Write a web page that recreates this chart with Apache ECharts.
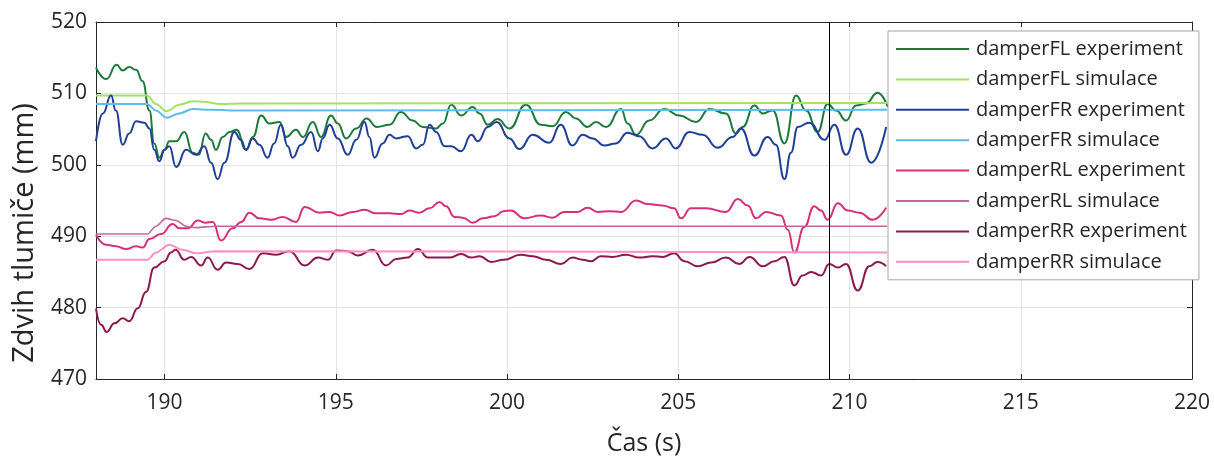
<!DOCTYPE html>
<html><head><meta charset="utf-8">
<script src="https://cdn.jsdelivr.net/npm/echarts@6/dist/echarts.min.js"></script>
<style>html,body{margin:0;padding:0;background:#fff}#c{width:1214px;height:461px}</style>
</head><body><div id="c"></div>
<script>
const seriesNames = ['damperFL experiment','damperFL simulace','damperFR experiment','damperFR simulace','damperRL experiment','damperRL simulace','damperRR experiment','damperRR simulace'];
const seriesColors = ['#1e7a3c','#a6e065','#213f94','#5cbde9','#d6307a','#c3679f','#8b1a4f','#ff8fc8'];

const tFLexp = [188,188.3,188.6,188.78,188.97,189.17,189.36,189.56,189.7,189.85,190.0,190.14,190.34,190.58,190.82,191.0,191.2,191.36,191.5,191.7,191.9,192.1,192.38,192.58,192.82,193.06,193.36,193.55,193.84,194.04,194.33,194.57,194.86,195.06,195.3,195.6,195.9,196.2,196.57,196.9,197.25,197.54,197.93,198.13,198.37,198.66,199.0,199.2,199.44,199.72,200.07,200.55,200.99,201.33,201.72,202.01,202.35,202.6,202.89,203.33,203.52,203.77,204.15,204.59,205.03,205.52,205.91,206.39,206.69,206.88,207.22,207.47,207.76,208.1,208.44,208.73,209.07,209.36,209.61,209.9,210.19,210.48,210.82,211.12];
const vFLexp = [513.6,512.0,514.0,513.2,513.7,513.3,511.7,507.6,503.0,501.0,502.1,503.3,503.3,504.6,501.7,501.4,504.4,503.5,502.1,503.9,504.6,504.9,502.1,503.9,506.9,505.8,506.0,503.9,504.9,503.9,506.0,503.9,506.9,505.8,503.7,505.1,506.5,505.3,505.6,507.4,506.2,505.3,505.1,505.8,508.4,506.9,508.1,507.2,505.6,506.4,505.1,508.4,505.6,505.4,507.4,506.5,505.3,506.0,505.3,507.8,505.8,504.2,506.2,507.8,506.9,506.0,507.8,507.2,504.4,505.3,508.3,507.2,507.6,503.0,509.7,507.6,504.6,508.5,507.6,506.2,508.3,508.6,510.1,508.1];

const tFRexp = [188,188.2,188.44,188.58,188.78,188.97,189.17,189.41,189.56,189.7,189.85,190.0,190.14,190.34,190.63,190.92,191.16,191.36,191.55,191.75,192.04,192.23,192.38,192.58,192.77,193.01,193.2,193.4,193.6,193.74,193.99,194.28,194.48,194.62,194.82,195.06,195.35,195.6,195.84,195.98,196.13,196.37,196.57,196.76,197.1,197.35,197.54,197.74,197.93,198.18,198.37,198.66,198.96,199.15,199.44,199.7,200.07,200.36,200.75,201.23,201.57,201.91,202.21,202.5,202.84,203.18,203.52,203.86,204.25,204.64,204.93,205.32,205.71,206.15,206.59,206.83,207.22,207.61,207.85,208.1,208.29,208.49,208.83,209.27,209.56,209.9,210.24,210.63,211.07];
const vFRexp = [503.3,507.2,509.7,507.6,502.8,504.4,506.1,505.9,505.1,502.1,500.5,502.1,502.6,499.7,502.1,501.4,502.6,500.3,498.0,500.3,504.6,503.5,502.1,503.7,502.8,501.0,503.0,505.6,502.6,501.0,502.8,504.6,501.9,503.7,505.6,503.7,501.4,503.5,506.0,503.9,501.0,503.0,504.2,503.7,504.0,502.3,502.8,505.6,504.6,502.6,502.6,501.9,504.2,503.3,505.3,506.0,503.7,502.2,504.2,503.1,505.6,502.7,504.2,503.7,502.7,503.0,504.5,504.0,502.3,503.7,502.3,504.6,504.2,502.4,503.9,505.1,501.3,503.9,502.8,498.0,501.7,505.3,505.9,503.5,505.6,501.4,505.1,500.3,505.3];

const tRLexp = [188,188.3,188.58,188.88,189.17,189.36,189.56,189.9,190.24,190.43,190.68,190.97,191.2,191.41,191.65,191.99,192.24,192.48,192.77,193.11,193.45,193.84,194.09,194.52,194.82,195.11,195.5,195.84,196.18,196.57,196.91,197.15,197.44,197.74,198.03,198.22,198.47,198.71,199.0,199.3,199.64,199.9,200.11,200.5,200.99,201.33,201.67,202.06,202.35,202.65,202.99,203.33,203.77,204.11,204.54,204.88,205.08,205.37,205.81,206.39,206.74,207.03,207.27,207.56,208.0,208.2,208.39,208.68,208.97,209.17,209.36,209.66,209.95,210.29,210.68,211.07];
const vRLexp = [490.2,488.8,488.6,488.2,488.6,488.4,489.6,490.3,491.7,491.1,491.1,492.2,491.9,492.0,489.4,491.1,492.0,493.3,492.5,492.3,492.7,492.0,494.1,493.3,493.4,492.9,493.4,493.7,493.2,493.2,493.1,493.6,493.3,493.9,494.8,494.2,492.7,492.6,491.9,492.5,492.8,493.5,493.6,492.5,492.9,492.6,493.4,493.4,494.0,493.4,493.5,493.4,495.0,494.5,494.3,493.9,492.5,493.9,493.9,493.4,495.2,494.3,492.5,493.4,492.9,490.9,487.7,491.3,494.2,493.6,492.3,494.6,493.6,493.3,492.3,494.0];

const tRRexp = [188,188.15,188.31,188.54,188.78,188.97,189.22,189.46,189.7,190.0,190.19,190.32,190.58,190.78,191.07,191.26,191.55,191.8,192.14,192.48,192.87,193.26,193.65,194.09,194.48,194.77,195.01,195.35,195.64,196.08,196.47,196.76,197.1,197.4,197.69,198.03,198.32,198.66,198.96,199.2,199.54,199.9,200.4,200.75,201.14,201.57,201.91,202.21,202.45,202.74,203.08,203.47,203.86,204.25,204.54,204.88,205.18,205.57,205.96,206.39,206.78,207.08,207.47,207.81,208.1,208.39,208.63,208.88,209.17,209.41,209.66,209.9,210.24,210.58,210.82,211.07];
const vRRexp = [479.9,477.6,476.6,477.8,478.5,478.1,479.9,482.2,485.6,486.5,487.7,488.1,486.7,487.1,485.9,487.0,485.3,486.3,486.1,485.4,487.6,487.4,487.9,485.9,487.0,486.7,488.0,487.9,487.3,488.1,485.9,486.8,487.0,488.2,487.0,487.0,487.0,487.5,487.0,487.2,486.4,486.7,487.4,487.2,486.7,486.1,487.0,486.7,486.5,487.2,487.1,487.4,487.0,487.2,487.1,487.6,486.5,485.8,486.3,487.0,486.1,487.1,485.8,486.5,487.1,483.1,484.5,485.0,484.5,486.1,485.6,486.1,482.4,485.8,486.4,485.8];

const tFLsim = [188,189.5,189.75,190.06,190.43,190.82,191.2,191.6,192.2,211.1];
const vFLsim = [509.7,509.7,508.5,507.5,508.4,508.9,508.8,508.5,508.6,508.65];
const tFRsim = [188,189.5,189.75,190.06,190.43,190.82,191.4,192.2,211.1];
const vFRsim = [508.5,508.5,507.6,506.6,507.2,507.8,507.7,507.6,507.7];
const tRLsim = [188,189.5,189.75,190.04,190.34,190.63,190.92,191.5,211.1];
const vRLsim = [490.3,490.3,491.4,492.5,492.2,491.4,491.2,491.4,491.4];
const tRRsim = [188,189.5,189.75,190.14,190.53,190.92,191.5,211.1];
const vRRsim = [486.7,486.7,487.7,488.8,488.1,487.6,487.9,487.7];

const cursorTime = 209.4;

const FONT = '"Open Sans", "Noto Sans", sans-serif';
const TXT = '#262626';
const zip = (t, v) => t.map((x, i) => [x, v[i]]);
const dataSets = [
  zip(tFLexp, vFLexp), zip(tFLsim, vFLsim),
  zip(tFRexp, vFRexp), zip(tFRsim, vFRsim),
  zip(tRLexp, vRLexp), zip(tRLsim, vRLsim),
  zip(tRRexp, vRRexp), zip(tRRsim, vRRsim)
];

const series = seriesNames.map((n, i) => {
  const exp = i % 2 === 0;
  const s = {
    name: n, type: 'line', data: dataSets[i], color: seriesColors[i],
    showSymbol: false, symbol: 'none',
    smooth: exp ? 0.5 : 0.3, smoothMonotone: 'x',
    lineStyle: { width: (i === 5) ? 1.6 : 2, color: seriesColors[i] },
    xAxisIndex: 0, yAxisIndex: 0, z: 3
  };
  if (i === 0) {
    s.markLine = {
      silent: true, symbol: ['none', 'none'], label: { show: false },
      lineStyle: { color: '#000', width: 1, type: 'solid' },
      data: [{ xAxis: cursorTime }], animation: false
    };
  }
  return s;
});

const axisLineStyle = { color: TXT, width: 1 };
const option = {
  animation: false,
  backgroundColor: '#fff',
  grid: { left: 96, right: 22, top: 22, bottom: 76 },
  xAxis: [{
    type: 'value', min: 188, max: 220, position: 'bottom',
    axisLine: { show: true, onZero: false, lineStyle: axisLineStyle },
    axisTick: { show: true, inside: true, length: 5, lineStyle: axisLineStyle },
    axisLabel: { showMinLabel: false, fontSize: 21, color: TXT, margin: 14, fontFamily: FONT },
    splitLine: { show: true, lineStyle: { color: '#e3e3e3', width: 1 } },
    name: 'Čas (s)', nameLocation: 'middle', nameGap: 52,
    nameTextStyle: { fontSize: 25, color: TXT, fontFamily: FONT }
  }, {
    type: 'value', min: 188, max: 220, position: 'top',
    axisLine: { show: true, onZero: false, lineStyle: axisLineStyle },
    axisTick: { show: true, inside: true, length: 5, lineStyle: axisLineStyle },
    axisLabel: { show: false, showMinLabel: false }, splitLine: { show: false }
  }],
  yAxis: [{
    type: 'value', min: 470, max: 520, interval: 10, position: 'left',
    axisLine: { show: true, onZero: false, lineStyle: axisLineStyle },
    axisTick: { show: true, inside: true, length: 5, lineStyle: axisLineStyle },
    axisLabel: { fontSize: 21, color: TXT, margin: 9, fontFamily: FONT },
    splitLine: { show: true, lineStyle: { color: '#e3e3e3', width: 1 } }
  }, {
    type: 'value', min: 470, max: 520, interval: 10, position: 'right',
    axisLine: { show: true, onZero: false, lineStyle: axisLineStyle },
    axisTick: { show: true, inside: true, length: 5, lineStyle: axisLineStyle },
    axisLabel: { show: false }, splitLine: { show: false }
  }],
  legend: {
    data: seriesNames, orient: 'vertical', left: 888, top: 31,
    padding: [8, 12, 8, 8], itemWidth: 73, itemHeight: 2, itemGap: 10.4,
    icon: 'rect', backgroundColor: '#fff', borderColor: '#a6a6a6', borderWidth: 1,
    borderRadius: 0, selectedMode: false,
    textStyle: { fontSize: 20, color: TXT, fontFamily: FONT, lineHeight: 20, padding: [0, 0, 0, 2] }
  },
  graphic: [{
    type: 'text', x: 25, y: 233, rotation: Math.PI / 2,
    style: { text: 'Zdvih tlumiče (mm)', fontSize: 29, fontFamily: FONT, fill: TXT, align: 'center', verticalAlign: 'middle' }
  }],
  series: series
};
const chart = echarts.init(document.getElementById('c'), null, { renderer: 'canvas' });
chart.setOption(option);
</script>
</body></html>
